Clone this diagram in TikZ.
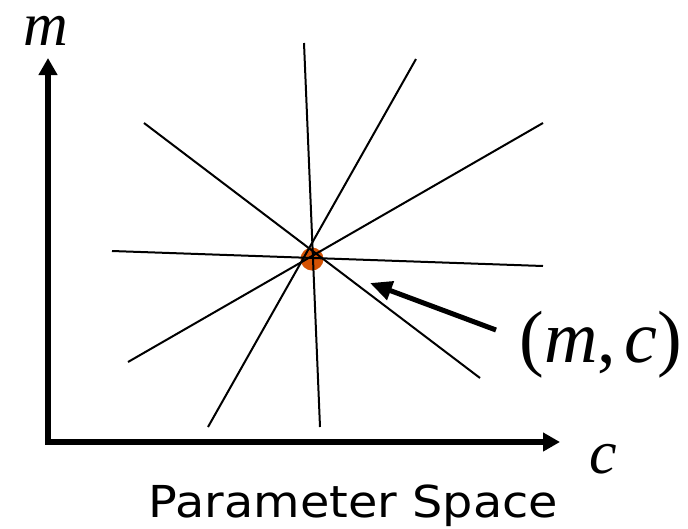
\documentclass[tikz,border=0pt]{standalone}
\usepackage{fontspec}
\setmainfont{Liberation Serif}
\newfontfamily\captionfont[FakeStretch=1.085]{DejaVu Sans}
\usetikzlibrary{arrows.meta}
\definecolor{dotorange}{RGB}{212,82,4}
\tikzset{
  axisline/.style={line width=5.5pt, -{Triangle[length=17pt,width=18pt]}},
  ray/.style={line width=2pt, black},
  pointer/.style={line width=5pt, -{Triangle[length=22pt,width=19pt]}},
  mathlabel/.style={anchor=base, inner sep=0pt, text height=30pt, text depth=0pt, font=\fontsize{62}{70}\selectfont},
  biglabel/.style={anchor=base, inner sep=0pt, font=\fontsize{74}{80}\selectfont},
  caption/.style={anchor=base, inner sep=0pt, font=\captionfont\fontsize{44}{50}\selectfont},
}
\begin{document}
\begin{tikzpicture}[x=1pt,y=-1pt]
\useasboundingbox (0,0) rectangle (688,528);
% axes
\coordinate (O) at (48,442);
\coordinate (ytip) at (48,58);
\coordinate (xtip) at (560,442);
\draw[axisline] ([yshift=2.75pt]O) -- (ytip);
\draw[axisline] ([xshift=-2.75pt]O) -- (xtip);
% intersection point
\coordinate (P) at (312,259);
\fill[dotorange] (P) circle (11.5pt);
% lines
\coordinate (a1) at (144,123); \coordinate (a2) at (480,378);
\coordinate (b1) at (304,43);  \coordinate (b2) at (320,427);
\coordinate (c1) at (416,59);  \coordinate (c2) at (208,427);
\coordinate (d1) at (543,123); \coordinate (d2) at (128,362);
\coordinate (e1) at (112,251); \coordinate (e2) at (543,266);
\draw[ray] (a1) -- (a2);
\draw[ray] (b1) -- (b2);
\draw[ray] (c1) -- (c2);
\draw[ray] (d1) -- (d2);
\draw[ray] (e1) -- (e2);
% labels
\node[mathlabel] (mlab) at (46,45) {\textit{m}};
\node[mathlabel] (clab) at (603,473) {\textit{c}};
\node[biglabel] (mclab) at (601,362) {(\textit{m},\kern0.12em\textit{c})};
\node[caption] (cap) at (353.5,517) {Parameter Space};
% pointer arrow
\coordinate (ptail) at (496,330);
\coordinate (phead) at (370,283);
\draw[pointer] (ptail) -- (phead);
\end{tikzpicture}
\end{document}
